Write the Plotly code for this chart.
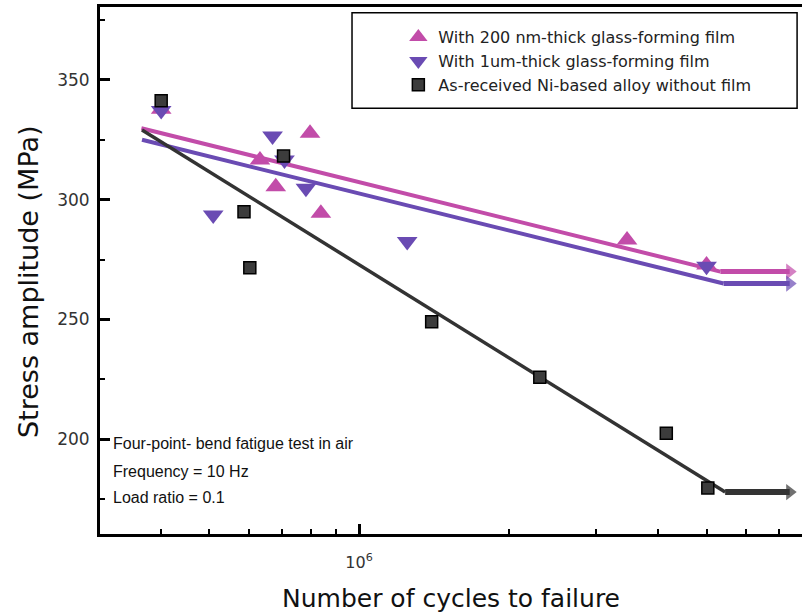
import plotly.graph_objects as go

# ---- data ----
x_200nm = [4.0e5, 6.32e5, 6.8e5, 7.97e5, 8.38e5, 3.46e6, 5.0e6]
y_200nm = [337.7, 316.6, 305.4, 327.7, 294.3, 283.2, 272.7]

x_1um = [4.0e5, 5.09e5, 6.7e5, 7.08e5, 7.82e5, 1.25e6, 5.0e6]
y_1um = [337.2, 293.6, 326.6, 316.6, 304.8, 282.5, 272.2]

x_bare = [4.0e5, 5.87e5, 6.03e5, 7.05e5, 1.40e6, 2.31e6, 4.15e6, 5.03e6]
y_bare = [341.3, 295.0, 271.6, 318.2, 249.1, 225.9, 202.5, 179.7]

# fitted S-N lines (start, knee) and run-out arrows (knee, end)
fit200_x = [3.65e5, 5.33e6]
fit200_y = [329.8, 270.0]
run200_x = [5.33e6, 7.35e6]
run200_y = [270.0, 270.0]

fit1um_x = [3.66e5, 5.41e6]
fit1um_y = [325.0, 265.0]
run1um_x = [5.41e6, 7.35e6]
run1um_y = [265.0, 265.0]

fitbare_x = [3.66e5, 5.45e6]
fitbare_y = [329.1, 178.0]
runbare_x = [5.45e6, 7.35e6]
runbare_y = [178.0, 178.0]

names = ["With 200 nm-thick glass-forming film",
         "With 1um-thick glass-forming film",
         "As-received Ni-based alloy without film"]
notes = ["Four-point- bend fatigue test in air",
         "Frequency = 10 Hz",
         "Load ratio = 0.1"]

PINK = "#C24CA9"
PURPLE = "#6A4BB3"
DARK = "#333333"
FONT = "DejaVu Sans"
FONT2 = "Liberation Sans"

fig = go.Figure()

def line_with_arrow(fx, fy, rx, ry, color, w_fit, w_run, head):
    fig.add_trace(go.Scatter(x=fx, y=fy, mode="lines",
                             line=dict(color=color, width=w_fit),
                             showlegend=False, hoverinfo="skip"))
    fig.add_trace(go.Scatter(x=rx, y=ry, mode="lines+markers",
                             line=dict(color=color, width=w_run),
                             marker=dict(symbol="triangle-right", size=[0, head],
                                         color=color, line=dict(width=0)),
                             showlegend=False, hoverinfo="skip"))

line_with_arrow(fit200_x, fit200_y, run200_x, run200_y, PINK, 4, 5, 14)
line_with_arrow(fit1um_x, fit1um_y, run1um_x, run1um_y, PURPLE, 4, 5, 14)
line_with_arrow(fitbare_x, fitbare_y, runbare_x, runbare_y, DARK, 3.5, 6, 14)

fig.add_trace(go.Scatter(x=x_200nm, y=y_200nm, mode="markers", name=names[0],
                         marker=dict(symbol="triangle-up", size=18, color=PINK,
                                     line=dict(width=0))))
fig.add_trace(go.Scatter(x=x_1um, y=y_1um, mode="markers", name=names[1],
                         marker=dict(symbol="triangle-down", size=18, color=PURPLE,
                                     line=dict(width=0))))
fig.add_trace(go.Scatter(x=x_bare, y=y_bare, mode="markers", name=names[2],
                         marker=dict(symbol="square", size=12, color="#3c3c3c",
                                     line=dict(width=1.5, color="#000000"))))

# legend frame
fig.add_shape(type="rect", xref="paper", yref="paper",
              x0=0.359, x1=0.993, y0=0.808, y1=0.989,
              line=dict(color="#000000", width=1.5), fillcolor="rgba(0,0,0,0)")

for i, t in enumerate(notes):
    fig.add_annotation(text=t, xref="paper", yref="paper",
                       x=0.016, y=[0.172, 0.118, 0.070][i],
                       xanchor="left", yanchor="middle", showarrow=False,
                       font=dict(family=FONT2, size=16, color="#111111"))

# y-axis title
fig.add_annotation(text="Stress amplitude (MPa)", xref="paper", yref="paper",
                   x=-0.1026, y=0.48, xanchor="center", yanchor="middle",
                   textangle=-90, showarrow=False,
                   font=dict(family=FONT, size=27, color="#111111"))

fig.update_layout(
    width=802, height=616,
    margin=dict(l=100, r=0, t=7, b=82),
    paper_bgcolor="white", plot_bgcolor="white",
    font=dict(family=FONT, color="#222222"),
    showlegend=True,
    legend=dict(x=0.425, y=0.975, xanchor="left", yanchor="top",
                bgcolor="rgba(0,0,0,0)", borderwidth=0,
                font=dict(family=FONT, size=16, color="#222222"),
                itemsizing="trace", tracegroupgap=0),
)

fig.update_xaxes(
    type="log", range=[5.479, 6.891],
    showline=True, linecolor="#000000", linewidth=3, mirror=True,
    showgrid=False, zeroline=False,
    ticks="inside", ticklen=10, tickwidth=3, tickcolor="#000000",
    tickvals=[1e6], ticktext=["10<sup>6</sup>"],
    tickfont=dict(family=FONT, size=16, color="#333333"),
    ticklabelstandoff=12,
    minor=dict(tickvals=[4e5, 5e5, 6e5, 7e5, 8e5, 9e5, 2e6, 3e6, 4e6, 5e6, 6e6, 7e6],
               ticks="inside", ticklen=5, tickwidth=2, tickcolor="#000000",
               showgrid=False),
    title=dict(text="Number of cycles to failure",
               font=dict(family=FONT, size=25, color="#111111"), standoff=19),
)
fig.update_yaxes(
    range=[160.5, 380.4],
    showline=True, linecolor="#000000", linewidth=3, mirror=False,
    showgrid=False, zeroline=False,
    ticks="inside", ticklen=10, tickwidth=3, tickcolor="#000000",
    tickvals=[200, 250, 300, 350],
    tickfont=dict(family=FONT, size=17, color="#333333"),
    minor=dict(tickvals=[175, 225, 275, 325, 375], ticks="inside", ticklen=5,
               tickwidth=2, tickcolor="#000000", showgrid=False),
    ticklabelstandoff=4,
)

fig.write_html("out.html")
